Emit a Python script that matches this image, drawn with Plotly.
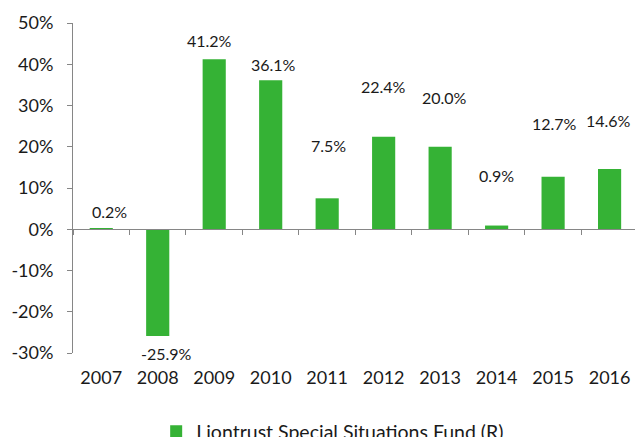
import plotly.graph_objects as go

years = ["2007", "2008", "2009", "2010", "2011", "2012", "2013", "2014", "2015", "2016"]
returns = [0.2, -25.9, 41.2, 36.1, 7.5, 22.4, 20.0, 0.9, 12.7, 14.6]
labels = ["0.2%", "-25.9%", "41.2%", "36.1%", "7.5%", "22.4%", "20.0%", "0.9%", "12.7%", "14.6%"]
series_name = "Liontrust Special Situations Fund (R)"
y_tick_values = [-30, -20, -10, 0, 10, 20, 30, 40, 50]
y_tick_labels = ["-30%", "-20%", "-10%", "0%", "10%", "20%", "30%", "40%", "50%"]

# label offsets in pixels (style only)
label_dy = [17, -17, 19, 16, 53, 50, 49, 50, 53, 49]
label_dx = [8, 9, -5, 3, 1, 0, 4, 0, 1, -1]

FONT = "Lato"
GREEN = "#35B235"
AXIS = "#868686"
TXT = "#1a1a1a"

fig = go.Figure()
fig.add_trace(go.Bar(
    x=years, y=returns, name=series_name,
    marker=dict(color=GREEN, line=dict(width=0)),
    width=0.41,
))

for i, (v, t, dy, dx) in enumerate(zip(returns, labels, label_dy, label_dx)):
    fig.add_annotation(x=i, y=v, xref="x", yref="y", text=t, showarrow=False,
                       yshift=dy, xshift=dx,
                       font=dict(family=FONT, size=16, color=TXT))

fig.update_layout(
    width=635, height=437,
    margin=dict(l=73, r=0, t=23, b=84, autoexpand=False),
    paper_bgcolor="white", plot_bgcolor="white",
    font=dict(family=FONT, size=18, color=TXT),
    showlegend=True,
    legend=dict(orientation="h", x=0.148, xanchor="left", y=-0.179, yanchor="top",
                font=dict(family=FONT, size=19.5, color=TXT),
                itemsizing="constant"),
    xaxis=dict(type="category", range=[-0.5, 9.45], anchor="free", position=0.375,
               showline=True, linecolor=AXIS, linewidth=1,
               ticks="outside", tickson="boundaries", ticklen=5, tickcolor=AXIS,
               showgrid=False, zeroline=False, ticklabelstandoff=132,
               automargin=False, tickfont=dict(family=FONT, size=18)),
    yaxis=dict(range=[-30, 50], tickmode="array", tickvals=y_tick_values,
               ticktext=y_tick_labels, showline=True,
               linecolor=AXIS, linewidth=1, ticks="outside", ticklen=5,
               tickcolor=AXIS, showgrid=False, zeroline=False, automargin=False,
               ticklabelstandoff=10, tickfont=dict(family=FONT, size=18)),
    bargap=0.59,
)

fig.write_html("out.html", config={"displayModeBar": False},
               post_script="document.body.style.margin='0';document.body.style.overflow='hidden';")
